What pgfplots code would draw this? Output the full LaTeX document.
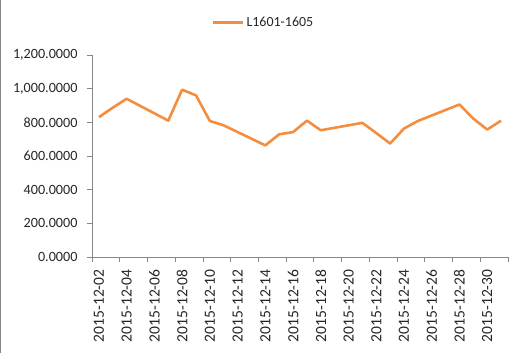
\documentclass[border=0pt]{standalone}
\usepackage{pgfplots}
\pgfplotsset{compat=1.18}
\usepackage{fontspec}
\setmainfont{Carlito}
\definecolor{lineor}{HTML}{F58D3E}
\definecolor{axgray}{HTML}{868686}
\definecolor{txt}{HTML}{262626}
\begin{document}
\begin{tikzpicture}
\path[use as bounding box] (-92bp,-96bp) rectangle (432bp,257bp);
\draw[axgray, line width=1.5bp] (-91.3bp,-96bp) -- (-91.3bp,257bp);
\begin{axis}[
  at={(0,0)}, anchor=south west,
  scale only axis, width=416bp, height=202bp,
  xmin=1.5, xmax=31.5, ymin=0, ymax=1200,
  axis x line*=bottom, axis y line*=left,
  axis line style={axgray, line width=0.8bp},
  tick align=outside,
  xtick={2,4,...,30},
  xticklabels={2015-12-02,2015-12-04,2015-12-06,2015-12-08,2015-12-10,2015-12-12,2015-12-14,2015-12-16,2015-12-18,2015-12-20,2015-12-22,2015-12-24,2015-12-26,2015-12-28,2015-12-30},
  major x tick style={draw=none},
  minor xtick={1.5,3.5,...,31.5},
  minor tick length=5bp,
  major tick length=5bp,
  tick style={axgray, line width=0.8bp},
  xticklabel style={rotate=90, anchor=east, font=\fontsize{15.6}{15.6}\selectfont, text=txt},
  xticklabel shift=4bp,
  ytick={0,200,...,1200},
  yticklabel style={font=\fontsize{14.2}{14.2}\selectfont, text=txt,
    /pgf/number format/.cd, fixed, fixed zerofill, precision=4, 1000 sep={,}, assume math mode=true},
  yticklabel shift=6bp,
  legend style={at={(0.412,1.163)}, anchor=center, draw=none, fill=none,
    font=\fontsize{14}{14}\selectfont, text=txt},
  legend image code/.code={\draw[#1, line width=3bp] (0bp,0bp) -- (30bp,0bp);},
]
\addplot[lineor, line width=2.6bp, line join=round] table {
x y
2 831
3 887
4 940
7 810
8 994
9 960
10 808
11 782
14 663
15 729
16 742
17 810
18 753
21 797
22 736
23 674
24 763
25 808
28 906
29 822
30 757
31 810
};
\addlegendentry{L1601-1605}
\end{axis}
\end{tikzpicture}
\end{document}
